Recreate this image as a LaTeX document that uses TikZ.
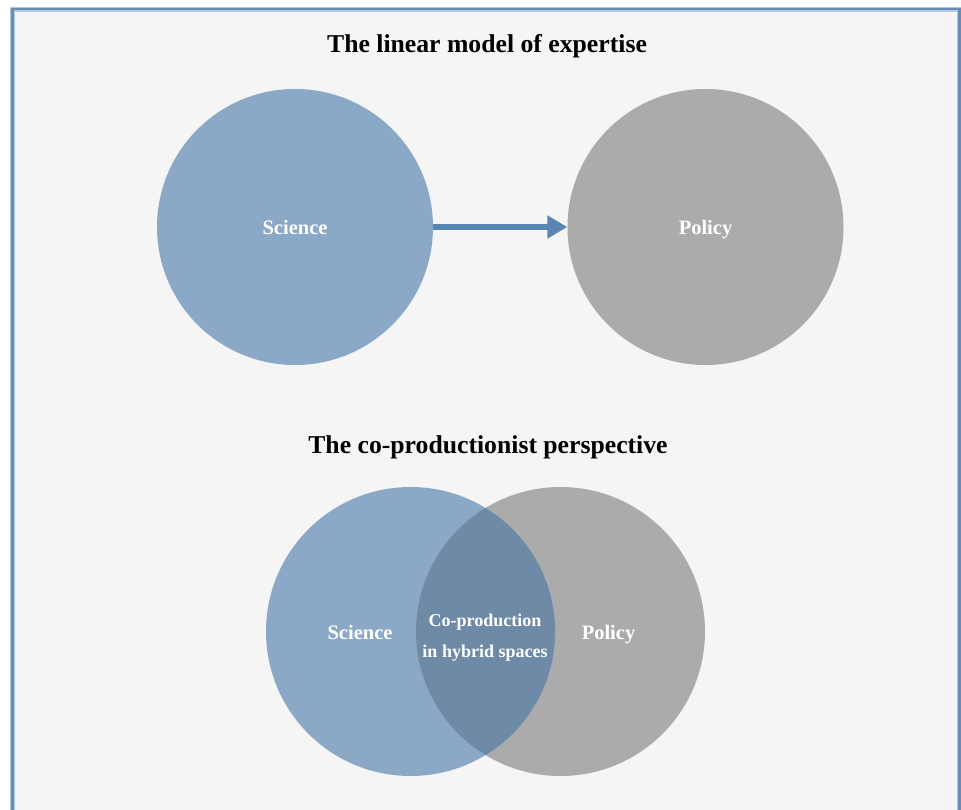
\documentclass[tikz,border=0pt]{standalone}
\usepackage{fontspec}
\setmainfont{Liberation Serif}
\usetikzlibrary{arrows.meta}
\definecolor{panelbg}{HTML}{F5F5F5}
\definecolor{framecol}{HTML}{6A8DB8}
\definecolor{framelight}{HTML}{B4C8DF}
\definecolor{sciblue}{HTML}{8BA9C6}
\definecolor{polgray}{HTML}{ABABAB}
\definecolor{overlapcol}{HTML}{6E8AA6}
\definecolor{arrowcol}{HTML}{5A86B4}
\begin{document}
\begin{tikzpicture}[x=1pt,y=-1pt,
  disc/.style={circle,inner sep=0pt,minimum size=#1},
  heading/.style={anchor=base,inner sep=0pt,font=\fontsize{25.7}{30}\selectfont\bfseries},
  lab/.style={text=white,inner sep=0pt,text height=14pt,text depth=0pt,
    font=\fontsize{20.5}{24}\selectfont\bfseries},
  sublab/.style={text=white,inner sep=0pt,anchor=base,
    font=\fontsize{18}{22}\selectfont\bfseries}]
\useasboundingbox (0,0) rectangle (961,809);
\fill[white] (0,0) rectangle (961,809);
% panel with its double-toned frame
\fill[panelbg] (12.5,9) rectangle (959.5,830);
\draw[framelight,line width=5pt] (12.5,9) rectangle (959.5,830);
\draw[framecol,line width=2.6pt] (12.5,9) rectangle (959.5,830);

% upper part: linear model
\node[heading] (title1) at (487,52) {The linear model of expertise};
\node[disc=276pt,fill=sciblue] (sciA) at (295,227) {};
\node[disc=276pt,fill=polgray] (polA) at (705.5,227) {};
\draw[arrowcol,line width=6pt,-{Triangle[length=20pt,width=22pt]}] (sciA) -- (polA);
\node[lab] (sciAlab) at (sciA) {Science};
\node[lab] (polAlab) at (polA) {Policy};

% lower part: co-production
\node[heading] (title2) at (488,453) {The co-productionist perspective};
\node[disc=289pt,fill=polgray] (polB) at (560.5,631.5) {};
\node[disc=289pt,fill=sciblue] (sciB) at (410.5,631.5) {};
\begin{scope}
  \clip (sciB.center) circle[radius=144.5pt];
  \fill[overlapcol] (polB.center) circle[radius=144.5pt];
\end{scope}
\node[lab] (sciBlab) at (360,632) {Science};
\node[lab] (polBlab) at (608.5,632) {Policy};
\node[sublab] (copA) at (485,626) {Co-production};
\node[sublab] (copB) at (485,657) {in hybrid spaces};
\end{tikzpicture}
\end{document}
